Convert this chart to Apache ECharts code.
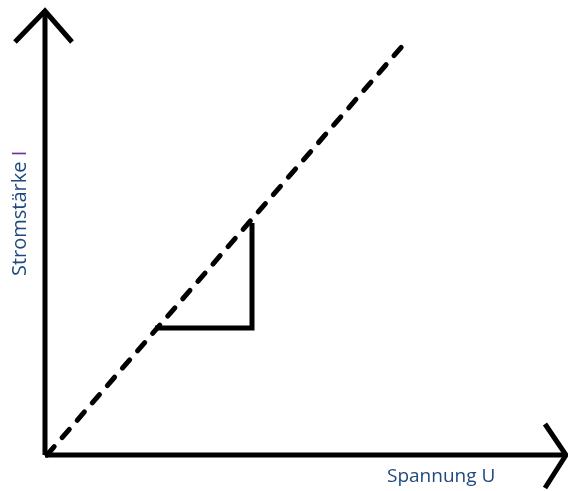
<!DOCTYPE html>
<html>
<head>
<meta charset="utf-8">
<script src="https://cdn.jsdelivr.net/npm/echarts@6/dist/echarts.min.js"></script>
<style>html,body{margin:0;padding:0;background:#fff;}#c{width:568px;height:491px;}</style>
</head>
<body>
<div id="c"></div>
<script>
// Schematic coordinates (origin = intersection of axes)
var xAxisLine = [[0, 0], [521, 0]];
var xArrowHead = [[500, 31], [521, 0], [500, -33]];
var yAxisLine = [[0, 0], [0, 444]];
var yArrowHead = [[-30, 413], [0, 444], [27, 413]];
var dashedLine = [[2, 0], [360, 412]];
var slopeTriangle = [[110, 127], [207, 127], [207, 232]];
var xLabel = 'Spannung U';
var yLabelMain = 'Stromstärke ';
var yLabelSymbol = 'I';

var chart = echarts.init(document.getElementById('c'), null, {renderer: 'canvas'});
var solid = {color: '#000', width: 5, type: 'solid', cap: 'butt', join: 'miter'};
function ser(data, style) {
  return {type: 'line', data: data, symbol: 'none', clip: false, silent: true, animation: false, lineStyle: style};
}
chart.setOption({
  backgroundColor: '#fff',
  animation: false,
  grid: {left: 0, right: 0, top: 0, bottom: 0},
  xAxis: {type: 'value', min: -45, max: 523, show: false},
  yAxis: {type: 'value', min: -36, max: 455, show: false},
  series: [
    ser(xAxisLine, solid),
    ser(xArrowHead, solid),
    ser(yAxisLine, solid),
    ser(yArrowHead, solid),
    ser(dashedLine, {color: '#000', width: 5, type: [11, 12], cap: 'round'}),
    ser(slopeTriangle, solid)
  ],
  graphic: [
    {type: 'text', x: 387, y: 477, style: {text: xLabel, fill: '#1f497d', font: '19px "Open Sans"', textVerticalAlign: 'middle'}},
    {type: 'text', x: 10, y: 276, rotation: Math.PI / 2,
      style: {text: '{a|' + yLabelMain + '}{b|' + yLabelSymbol + '}',
        rich: {a: {fill: '#1f497d', font: '20px "Open Sans"'}, b: {fill: '#7030a0', font: '20px "Open Sans"'}},
        textVerticalAlign: 'top'}}
  ]
});
</script>
</body>
</html>
